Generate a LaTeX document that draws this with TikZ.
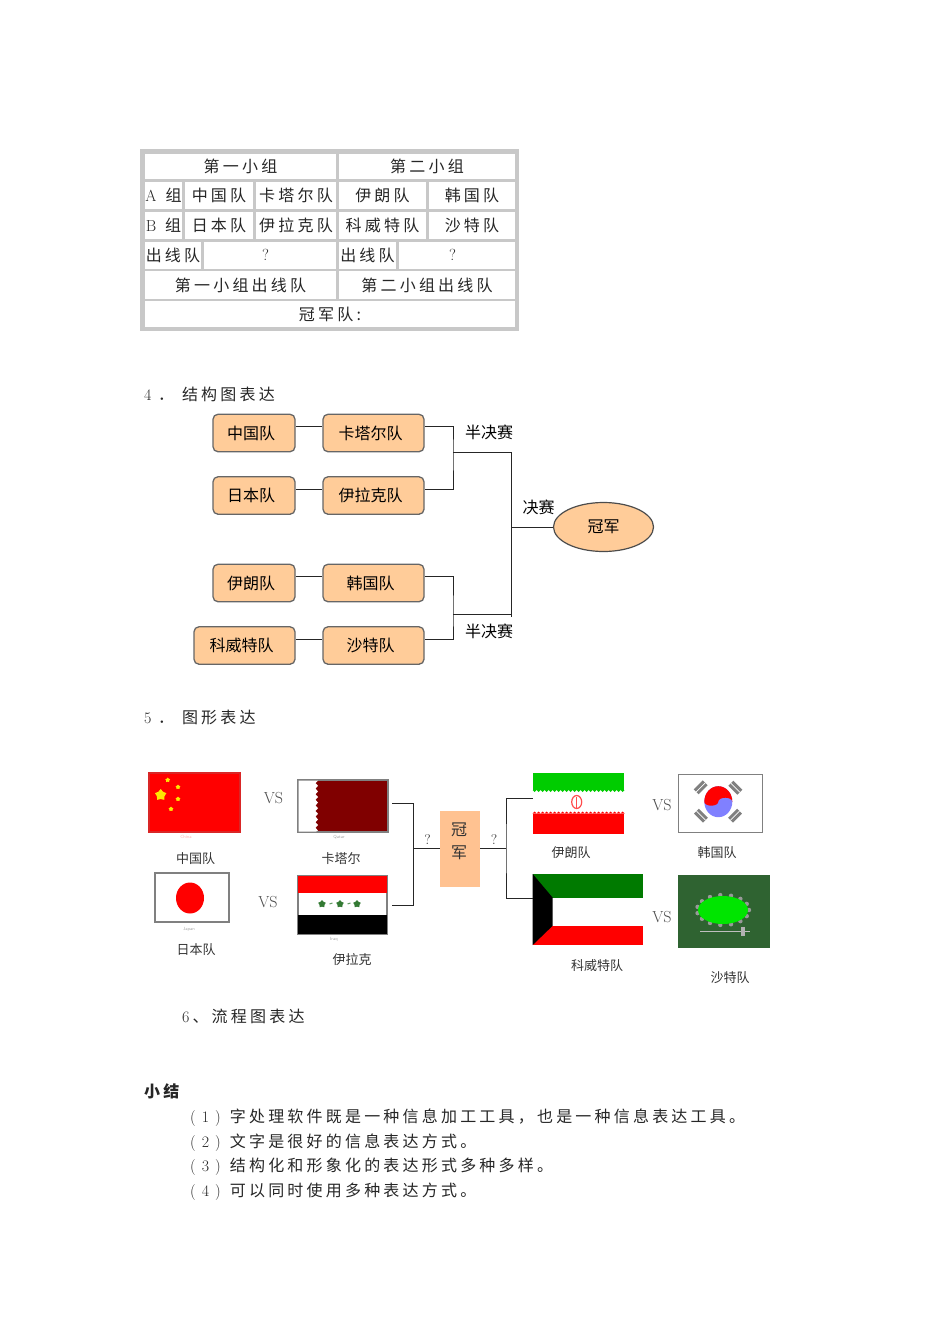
\documentclass[tikz,border=0pt]{standalone}
\usepackage{fontspec}
\usepackage{xcolor}
\usetikzlibrary{shapes.geometric}
\newfontfamily\cjkfont{Noto Sans CJK SC}
\newfontfamily\cjkwide[LetterSpace=20]{Noto Sans CJK SC}
\definecolor{boxorange}{HTML}{FFCC99}
\definecolor{cellgray}{HTML}{C8C8C8}
\definecolor{saudigreen}{HTML}{2F6331}
\def\teamfont{\fontsize{16}{18}\cjkfont}
\def\capfont{\fontsize{13}{15}\cjkfont}
\def\paren#1{{\rmfamily(\hspace{6pt}#1\hspace{6pt})}\hspace{9pt}}

\begin{document}
\begin{tikzpicture}[x=1pt,y=-1pt]
	\tikzstyle{cell}=[draw=cellgray,fill=white,line width=2.8pt,inner sep=0pt,font=\fontsize{16}{18}\cjkwide,text=black!85]
	\tikzstyle{body}=[anchor=west,inner sep=0pt,font=\fontsize{16}{18}\cjkwide,text=black!85]
	\tikzstyle{team}=[draw=black!60,fill=boxorange,rounded corners=5pt,line width=1.3pt,minimum height=37.5pt,inner sep=0pt,font=\teamfont,execute at end node={\hspace{6pt}}]
	\tikzstyle{link}=[draw=black!85,line width=1pt]
	\tikzstyle{annot}=[inner sep=0pt,font=\teamfont]
	\tikzstyle{flagcap}=[inner sep=0pt,font=\capfont,text=black!80]
	\tikzstyle{flag}=[draw=black!50,line width=1.2pt,inner sep=0pt]
	\tikzstyle{versus}=[inner sep=0pt,text=black!70,font=\fontsize{16}{18}\rmfamily]
	\tikzstyle{ask}=[inner sep=0pt,text=black!75,font=\fontsize{14}{16}\rmfamily]
	\tikzstyle{tinytag}=[inner sep=0pt,font=\fontsize{4.5}{5}\sffamily,text=black!35]
	\useasboundingbox (0,0) rectangle (950,1344);

	% Draw the table frame and its cells
	\node[fill=cellgray,minimum width=378.5pt,minimum height=182pt,inner sep=0pt] (T-0) at (329.25,240) {};
	\foreach \name/\xa/\ya/\xb/\yb/\txt in {
		1/143.5/152.5/337.5/180.5/第一小组,2/337.5/152.5/516.5/180.5/第二小组,
		3/143.5/180.5/183.5/210.5/{{\rmfamily A}\hspace{9pt}组},4/183.5/180.5/254.5/210.5/中国队,5/254.5/180.5/337.5/210.5/卡塔尔队,
		6/337.5/180.5/427.5/210.5/伊朗队,7/427.5/180.5/516.5/210.5/韩国队,
		8/143.5/210.5/183.5/240.5/{{\rmfamily B}\hspace{9pt}组},9/183.5/210.5/254.5/240.5/日本队,10/254.5/210.5/337.5/240.5/伊拉克队,
		11/337.5/210.5/427.5/240.5/科威特队,12/427.5/210.5/516.5/240.5/沙特队,
		13/143.5/240.5/202.5/270/出线队,14/202.5/240.5/337.5/270/{\rmfamily ?\hspace{9pt}\null},
		15/337.5/240.5/397.5/270/出线队,16/397.5/240.5/516.5/270/{\rmfamily ?\hspace{9pt}\null},
		17/143.5/270/337.5/300/第一小组出线队,18/337.5/270/516.5/300/第二小组出线队,
		19/143.5/300/516.5/328.5/冠军队:}
	\node[cell,minimum width={(\xb-\xa)*1pt},minimum height={(\yb-\ya)*1pt}] (C-\name) at ({(\xa+\xb)/2},{(\ya+\yb)/2}) {\txt};

	% Section headings
	\node[body] (head-4) at (144,394) {{\rmfamily 4}\hspace{6.5pt}．\hspace{8pt}结构图表达};
	\node[body] (head-5) at (144,717) {{\rmfamily 5}\hspace{6.5pt}．\hspace{8pt}图形表达};
	\node[body] (head-6) at (182,1016) {{\rmfamily 6}\hspace{3pt}、流程图表达};

	% Draw the team boxes of the structure chart
	\foreach \name/\xa/\xb/\y/\txt in {
		1/213/295/433/中国队,2/323/424/433/卡塔尔队,
		3/213/295/495.5/日本队,4/323/424/495.5/伊拉克队,
		5/213/295/583/伊朗队,6/323/424/583/韩国队,
		7/194/295/645.5/科威特队,8/323/424/645.5/沙特队}
	\node[team,minimum width={(\xb-\xa)*1pt}] (B-\name) at ({(\xa+\xb)/2},\y) {\txt};
	\node[draw=black!70,fill=boxorange,ellipse,line width=1.2pt,minimum width=100pt,minimum height=49pt,inner sep=0pt,font=\teamfont] (winner) at (603.5,527) {冠军};

	% Joints of the bracket
	\coordinate (J-1) at (453,452);
	\coordinate (J-2) at (453,614);
	\coordinate (J-3) at (511,527);
	\coordinate (J-4) at (511,617);

	% Connect the boxes
	\foreach \source/\dest in {1/2,3/4,5/6,7/8}
	\path[link] ([yshift=6.5pt]B-\source.east) edge ([yshift=6.5pt]B-\dest.west);
	\draw[link] ([yshift=6.5pt]B-2.east) -| (J-1) |- ([yshift=6.5pt]B-4.east);
	\draw[link] ([yshift=6.5pt]B-6.east) -| (J-2) |- ([yshift=6.5pt]B-8.east);
	\draw[link] (J-1) -| (J-4);
	\draw[link] (J-2) -- (J-2 -| J-4);
	\draw[link] (J-3) -- (winner);

	% Annotate the rounds
	\node[annot] (semi-1) at (489,432) {半决赛};
	\node[annot] (semi-2) at (489,631) {半决赛};
	\node[annot] (final) at (538.5,507) {决赛};

	% Draw the flags, left side
	\node[flag,draw=red!70!gray,fill=red,minimum width=91pt,minimum height=59pt] (F-china) at (194.5,802.5) {};
	\foreach \name/\x/\y/\s in {1/160.7/795/12,2/167.7/780/5,3/178/787/5,4/178/799/5,5/171/809/5}
	\node[star,star points=5,fill=yellow!90!orange,inner sep=0pt,minimum size=\s pt] (S-\name) at (\x,\y) {};
	\node[flag,fill=red!50!black,minimum width=90pt,minimum height=52pt] (F-qatar) at (343,806) {};
	\fill[white] (298.5,780.5) -- (318,780.5)
		\foreach \i in {0,...,8} { -- ({318-2.5},{783+\i*5.6}) -- (318,{785.8+\i*5.6}) } -- (316,831.5) -- (298.5,831.5) -- cycle;
	\node[flag,fill=white,minimum width=74pt,minimum height=49pt] (F-japan) at (192,897.5) {};
	\fill[red] (190,898) ellipse (14pt and 15.5pt);
	\node[flag,fill=white,minimum width=89pt,minimum height=58pt] (F-iraq) at (342.5,905) {};
	\fill[red] (298,876) rectangle (387,893);
	\fill[black] (298,915) rectangle (387,934);
	\foreach \name/\x in {1/322,2/340,3/357}
	\node[star,star points=5,fill=green!35!black!80,inner sep=0pt,minimum size=8pt] (K-\name) at (\x,904) {};
	\foreach \x in {331,349}
	\draw[green!35!black!60,line width=1pt] ({\x-1.5},904) -- ({\x+1.5},903);

	% Draw the flags, right side
	\node[inner sep=0pt,fill=white,minimum width=91pt,minimum height=61pt] (F-iran) at (578.5,803.5) {};
	\fill[green!80!black] (532.7,773) rectangle (624,790);
	\foreach \x in {0,...,22}
	\fill[green!80!black] ({532.7+\x*4},790) -- ++(4,0) -- ++(-2,2) -- cycle;
	\fill[red] (532.7,813.5) rectangle (624,834);
	\foreach \x in {0,...,22}
	\fill[red] ({532.7+\x*4},813.5) -- ++(4,0) -- ++(-2,-2) -- cycle;
	\draw[red!70,line width=1.2pt] (576.7,802) ellipse (5pt and 6.5pt);
	\draw[red!70,line width=1.2pt] (576.7,797) -- (576.7,808);
	\node[flag,fill=white,minimum width=84pt,minimum height=58pt] (F-korea) at (720.3,803.5) {};
	\fill[blue!50] (718.3,801.7) ellipse (14pt and 15.5pt);
	\fill[red] (704.3,801.7) arc (180:360:14 and 15.5) arc (360:180:7 and 4) arc (0:180:7 and 4) -- cycle;
	\foreach \x/\y/\s in {700.7/787.3/1,735.3/787.7/-1,701/815.7/-1,735/815.7/1} {
		\draw[black!50,line width=7pt] ({\x-4.5},{\y+4.5*\s}) -- ({\x+4.5},{\y-4.5*\s});
		\draw[white,line width=.7pt] ({\x-4.5},{\y+4.5*\s}) -- ({\x+4.5},{\y-4.5*\s});
	}
	\node[inner sep=0pt,fill=white,minimum width=110pt,minimum height=71pt] (F-kuwait) at (587.7,909.5) {};
	\fill[green!48!black] (532.7,874) rectangle (642.7,897.7);
	\fill[red] (532.7,925.7) rectangle (642.7,945);
	\fill[black] (532.7,874) -- (552.7,897.7) -- (552.7,925.7) -- (532.7,945) -- cycle;
	\node[inner sep=0pt,fill=saudigreen,minimum width=92pt,minimum height=73pt] (F-saudi) at (724,911.5) {};
	\foreach \a in {0,24,...,336}
	\fill[black!40] ({723+26*cos(\a)},{910+15*sin(\a)}) circle (2.2pt);
	\fill[green!90!black] (723,910) ellipse (25pt and 14pt);
	\draw[black!25,line width=1pt] (700,931) -- (750,931);
	\fill[black!30] (741,927) rectangle (745,936);

	% Champion box and joints of the flag chart
	\node[fill=boxorange!95!red,inner sep=0pt,minimum width=40pt,minimum height=76pt] (champ) at (460,848.7) {};
	\node[inner sep=0pt,align=center,font=\fontsize{16}{23}\cjkfont,text=black!80] (champ-text) at (459,841.5) {冠\\军};
	\coordinate (J-5) at (413.7,848.7);
	\coordinate (J-6) at (506,848.7);
	\draw[link] ([shift={(3.7pt,3pt)}]F-qatar.east) -| (J-5) |- ([xshift=4.7pt]F-iraq.east);
	\draw[link] (J-5) -- (champ);
	\draw[link] (champ) -- (J-6);
	\draw[link] ([yshift=5pt]F-iran.west) -| (J-6) |- ([yshift=11pt]F-kuwait.west);
	\node[ask] (ask-1) at (427.7,840) {?};
	\node[ask] (ask-2) at (494,840) {?};

	% Annotate the flags
	\node[versus] (vs-1) at (273.5,798) {VS};
	\node[versus] (vs-2) at (268,902) {VS};
	\node[versus] (vs-3) at (662,805) {VS};
	\node[versus] (vs-4) at (662,916.7) {VS};
	\node[tinytag,text=red!30] (tag-1) at (186,837) {China};
	\node[tinytag] (tag-2) at (339,837) {Qatar};
	\node[tinytag] (tag-3) at (189,929) {Japan};
	\node[tinytag] (tag-4) at (334,939) {Iraq};
	\foreach \name/\x/\y/\txt in {1/195.5/859/中国队,2/341/859/卡塔尔,3/196/950/日本队,4/352/960/伊拉克,
		5/571/853/伊朗队,6/717/853/韩国队,7/597/966/科威特队,8/730/977.7/沙特队}
	\node[flagcap] (L-\name) at (\x,\y) {\txt};

	% Summary
	\node[body,font=\fontsize{16}{18}\cjkwide\bfseries] (sum) at (144,1091) {小结};
	\foreach \name/\y/\num/\txt in {
		1/1118/1/字处理软件既是一种信息加工工具，也是一种信息表达工具。,
		2/1143/2/文字是很好的信息表达方式。,
		3/1167/3/结构化和形象化的表达形式多种多样。,
		4/1192/4/可以同时使用多种表达方式。}
	\node[body] (sum-\name) at (190,\y) {\paren{\num}\txt};
\end{tikzpicture}
\end{document}
